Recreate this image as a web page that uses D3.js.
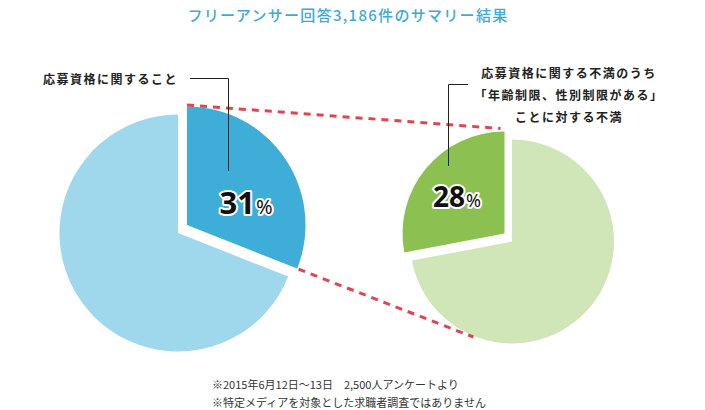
<!DOCTYPE html>
<html lang="ja">
<head>
<meta charset="UTF-8">
<title>フリーアンサー回答3,186件のサマリー結果</title>
<script src="https://d3js.org/d3.v7.min.js"></script>
<style>
    body { margin: 0; background: #fff; }
    svg text { font-family: "Noto Sans CJK JP", "Noto Sans", sans-serif; }
    .label { font-size: 12px; font-weight: bold; fill: #222; letter-spacing: 1.5px; }
    .note { font-size: 11px; fill: #333; }
    .pct { font-family: "Noto Sans", Roboto, sans-serif; font-weight: bold; fill: #111;
           stroke: #fff; stroke-width: 4px; paint-order: stroke; stroke-linejoin: round; }
</style>
</head>
<body>
<svg id="chart" width="705" height="410"></svg>
<script>
    // データ
    const titleText = "フリーアンサー回答3,186件のサマリー結果";
    const leftValues = [31, 69];          // 応募資格に関すること / その他
    const rightValues = [72, 28];         // その他 / 年齢制限、性別制限
    const leftLabel = ["応募資格に関すること"];
    const rightLabel = ["応募資格に関する不満のうち", "「年齢制限、性別制限がある」", "ことに対する不満"];
    const notes = ["※2015年6月12日〜13日　2,500人アンケートより", "※特定メディアを対象とした求職者調査ではありません"];

    const svg = d3.select("#chart");

    // タイトル
    svg.append("text")
        .attr("x", 348).attr("y", 21)
        .attr("text-anchor", "middle")
        .style("font-size", "15px")
        .style("font-weight", 500)
        .style("letter-spacing", "1.3px")
        .style("fill", "#3fa9d8")
        .text(titleText);

    const pie = d3.pie().sort(null);

    // 左の円
    const L = { cx: 178, cy: 233, r: 118.5, dx: 9, dy: -8 };
    const leftArcs = pie(leftValues);
    const leftArc = d3.arc().innerRadius(0).outerRadius(L.r);
    const leftColors = ["#3eaed9", "#9fd7ec"];

    const gl = svg.append("g").attr("transform", `translate(${L.cx},${L.cy})`);
    gl.selectAll("path")
        .data(leftArcs)
        .join("path")
        .attr("d", leftArc)
        .attr("fill", (d, i) => leftColors[i])
        .attr("transform", (d, i) => i === 0 ? `translate(${L.dx},${L.dy})` : null);

    // 右の円
    const R = { cx: 512, cy: 241.5, r: 102, dx: -7.5, dy: -8 };
    const rightArcs = pie(rightValues);
    const rightArc = d3.arc().innerRadius(0).outerRadius(R.r);
    const rightColors = ["#d1e6b8", "#8cc152"];

    const gr = svg.append("g").attr("transform", `translate(${R.cx},${R.cy})`);
    gr.selectAll("path")
        .data(rightArcs)
        .join("path")
        .attr("d", rightArc)
        .attr("fill", (d, i) => rightColors[i])
        .attr("transform", (d, i) => i === 1 ? `translate(${R.dx},${R.dy})` : null);

    // 点線（左の切り出し部分 → 右の円）
    const pt = (c, r, a, dx, dy) => [c.cx + dx + r * Math.sin(a), c.cy + dy - r * Math.cos(a)];
    const a0 = leftArcs[0];
    const p1 = pt(L, L.r, a0.startAngle, L.dx, L.dy - 1.5);
    const q1 = pt(R, R.r + 1, rightArcs[1].endAngle, R.dx - 4, R.dy - 2);
    const p2 = pt(L, L.r + 1.5, a0.endAngle, L.dx, L.dy);
    const q2 = pt(R, R.r + 1, (202 / 180) * Math.PI, 0, 0);

    svg.selectAll("line.dash")
        .data([[p1, q1], [p2, q2]])
        .join("line")
        .attr("class", "dash")
        .attr("x1", d => d[0][0]).attr("y1", d => d[0][1])
        .attr("x2", d => d[1][0]).attr("y2", d => d[1][1])
        .attr("stroke", "#e0444f")
        .attr("stroke-width", 3)
        .attr("stroke-dasharray", "7,6");

    // パーセント
    const pctLeft = svg.append("text").attr("class", "pct").attr("x", 246).attr("y", 214).attr("text-anchor", "middle");
    pctLeft.append("tspan").style("font-size", "31px").text(leftValues[0]);
    pctLeft.append("tspan").style("font-size", "20px").style("font-weight", "normal").attr("dx", 1).text("%");

    const pctRight = svg.append("text").attr("class", "pct").attr("x", 457).attr("y", 207).attr("text-anchor", "middle");
    pctRight.append("tspan").style("font-size", "28px").text(rightValues[1]);
    pctRight.append("tspan").style("font-size", "18px").style("font-weight", "normal").attr("dx", 1).text("%");

    // 引き出し線
    const leader = d3.line();
    svg.append("path")
        .attr("d", leader([[190, 78.5], [228.5, 78.5], [228.5, 171]]))
        .attr("fill", "none").attr("stroke", "#222").attr("stroke-width", 1);
    svg.append("path")
        .attr("d", leader([[468, 84.5], [448.5, 84.5], [448.5, 166]]))
        .attr("fill", "none").attr("stroke", "#222").attr("stroke-width", 1);

    // ラベル
    svg.append("text").attr("class", "label")
        .attr("x", 178).attr("y", 84)
        .attr("text-anchor", "end")
        .text(leftLabel[0]);

    svg.selectAll("text.rlabel")
        .data(rightLabel)
        .join("text")
        .attr("class", "label rlabel")
        .attr("x", 569)
        .attr("y", (d, i) => 78 + i * 22)
        .attr("text-anchor", "middle")
        .text(d => d);

    // 注記
    svg.selectAll("text.note")
        .data(notes)
        .join("text")
        .attr("class", "note")
        .attr("x", 212)
        .attr("y", (d, i) => 389 + i * 18)
        .text(d => d);
</script>
</body>
</html>
